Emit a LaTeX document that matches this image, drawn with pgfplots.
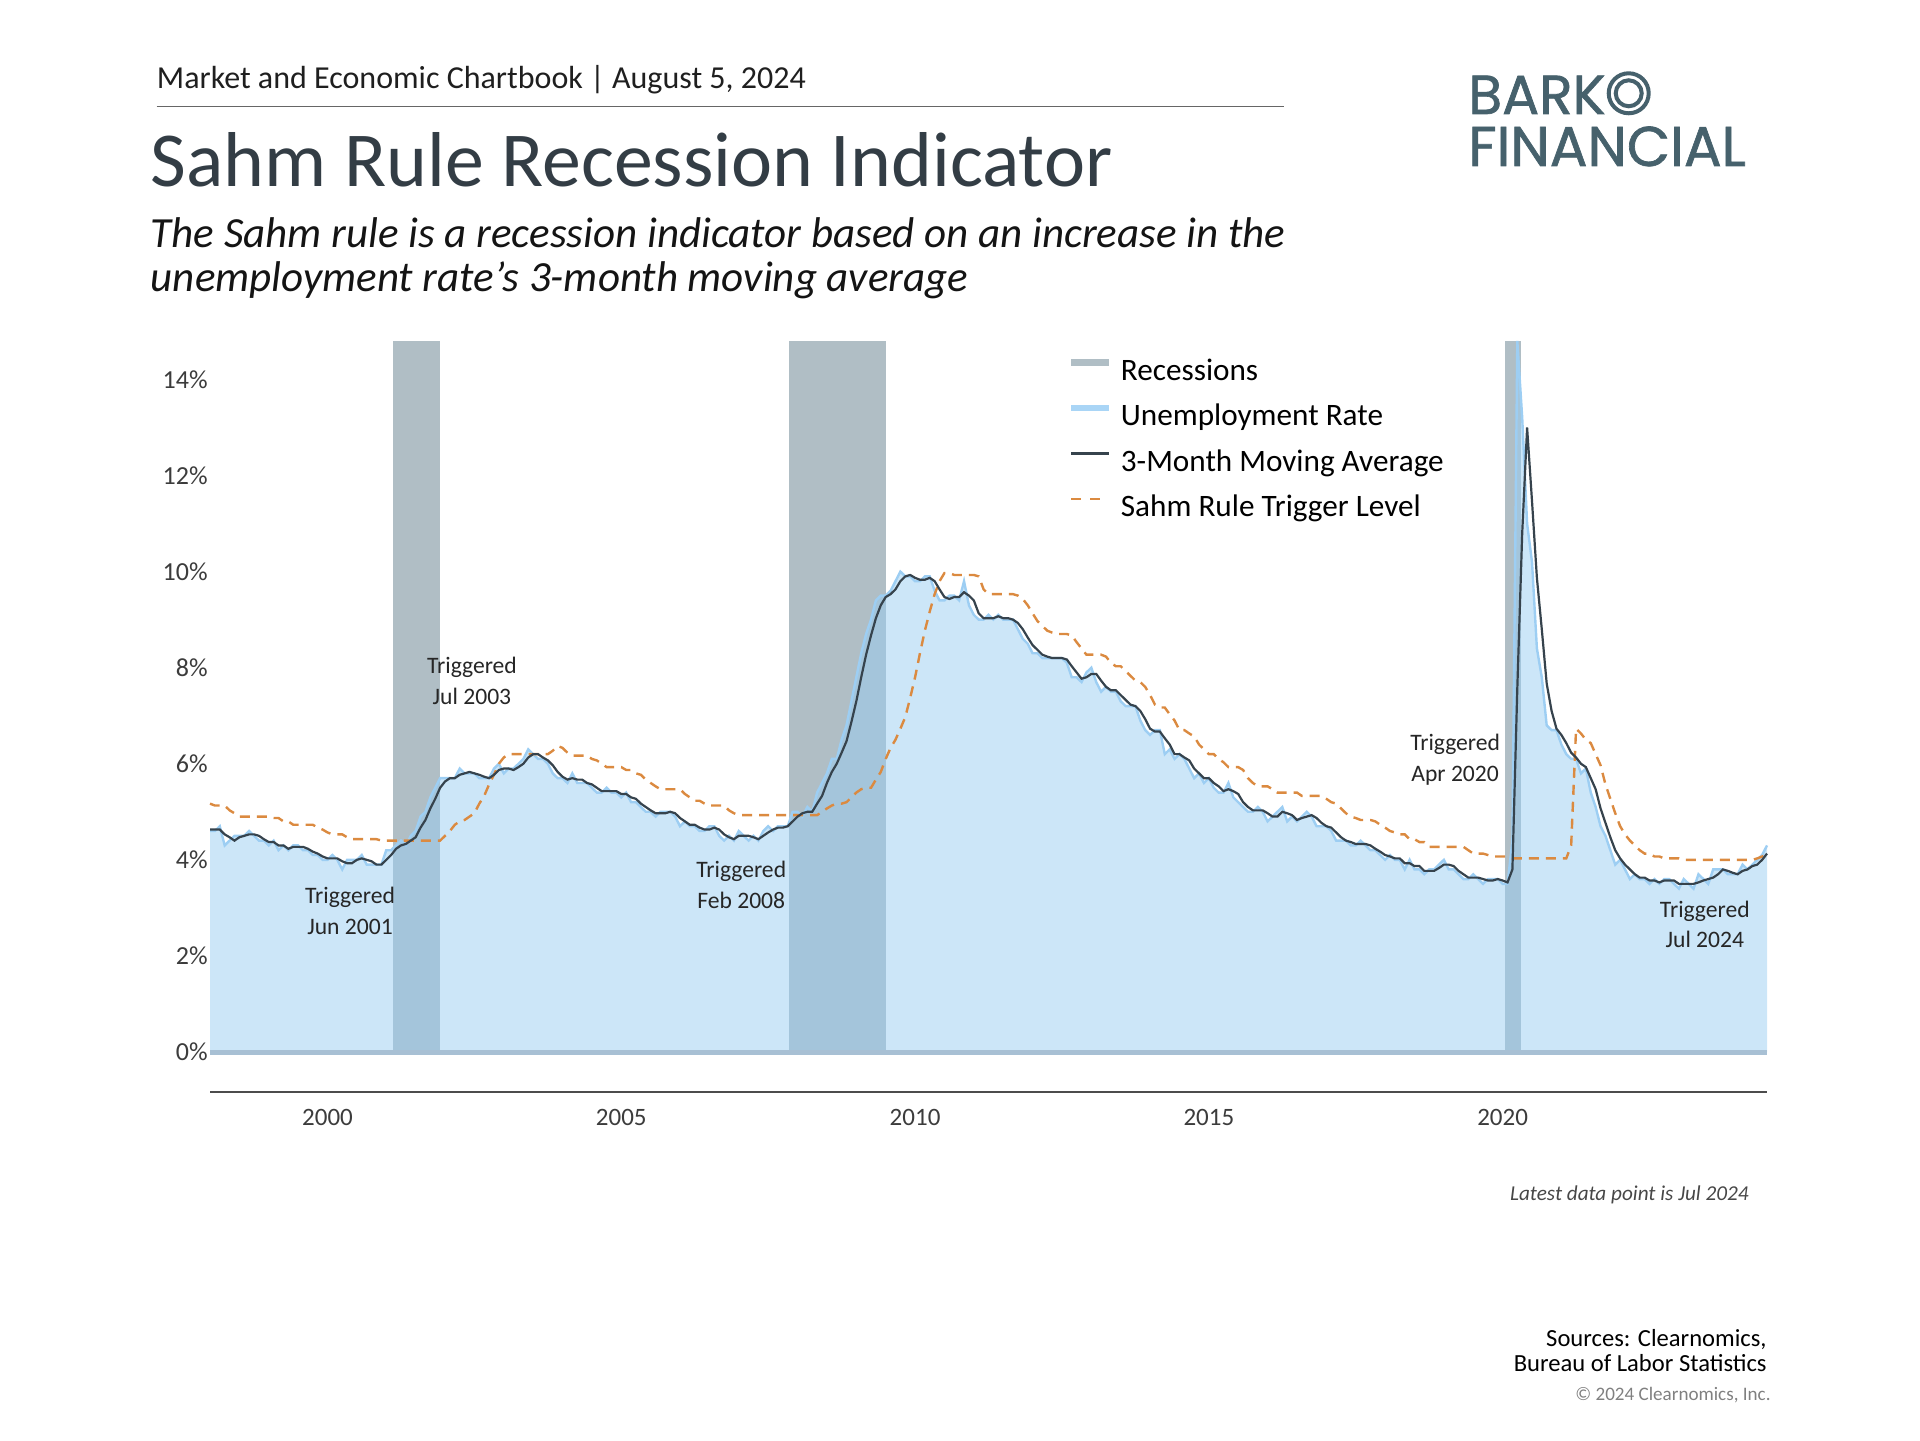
\documentclass[border=0pt]{standalone}
\usepackage{fontspec}
\setmainfont{Carlito}
\newfontfamily\logofont{Poppins}[FakeBold=1.2]
\usepackage{pgfplots}
\usepackage{pgfplotstable}
\pgfplotsset{compat=1.18}

\definecolor{recgray}{HTML}{B0BEC5}
\definecolor{areablue}{HTML}{99CDF1}
\definecolor{urblue}{HTML}{9DCEF3}
\definecolor{urleg}{HTML}{A9D5F6}
\definecolor{maline}{HTML}{36434D}
\definecolor{trig}{HTML}{DB8A40}
\definecolor{basecol}{HTML}{A8C0D4}
\definecolor{titlecol}{HTML}{333D45}
\definecolor{logocol}{HTML}{46616C}
\definecolor{tickcol}{HTML}{3C3C3C}

% monthly, Jan 1998 .. Jul 2024: unemployment rate, 3-month average, Sahm trigger level
\pgfplotstableread[row sep=\\]{
ur ma tr \\
4.6 4.63 5.17 \\ 4.6 4.63 5.13 \\ 4.7 4.63 5.13 \\ 4.3 4.53 5.13 \\ 4.4 4.47 5.03 \\ 4.5 4.40 4.97 \\ 4.5 4.47 4.90 \\ 4.5 4.50 4.90 \\ 4.6 4.53 4.90 \\ 4.5 4.53 4.90 \\ 4.4 4.50 4.90 \\ 4.4 4.43 4.90 \\ % 1998
4.3 4.37 4.90 \\ 4.4 4.37 4.87 \\ 4.2 4.30 4.87 \\ 4.3 4.30 4.80 \\ 4.2 4.23 4.80 \\ 4.3 4.27 4.73 \\ 4.3 4.27 4.73 \\ 4.2 4.27 4.73 \\ 4.2 4.23 4.73 \\ 4.1 4.17 4.73 \\ 4.1 4.13 4.67 \\ 4.0 4.07 4.63 \\ % 1999
4.0 4.03 4.57 \\ 4.1 4.03 4.53 \\ 4.0 4.03 4.53 \\ 3.8 3.97 4.53 \\ 4.0 3.93 4.47 \\ 4.0 3.93 4.43 \\ 4.0 4.00 4.43 \\ 4.1 4.03 4.43 \\ 3.9 4.00 4.43 \\ 3.9 3.97 4.43 \\ 3.9 3.90 4.43 \\ 3.9 3.90 4.40 \\ % 2000
4.2 4.00 4.40 \\ 4.2 4.10 4.40 \\ 4.3 4.23 4.40 \\ 4.4 4.30 4.40 \\ 4.3 4.33 4.40 \\ 4.5 4.40 4.40 \\ 4.6 4.47 4.40 \\ 4.9 4.67 4.40 \\ 5.0 4.83 4.40 \\ 5.3 5.07 4.40 \\ 5.5 5.27 4.40 \\ 5.7 5.50 4.40 \\ % 2001
5.7 5.63 4.50 \\ 5.7 5.70 4.60 \\ 5.7 5.70 4.73 \\ 5.9 5.77 4.80 \\ 5.8 5.80 4.83 \\ 5.8 5.83 4.90 \\ 5.8 5.80 4.97 \\ 5.7 5.77 5.17 \\ 5.7 5.73 5.33 \\ 5.7 5.70 5.57 \\ 5.9 5.77 5.77 \\ 6.0 5.87 6.00 \\ % 2002
5.8 5.90 6.13 \\ 5.9 5.90 6.20 \\ 5.9 5.87 6.20 \\ 6.0 5.93 6.20 \\ 6.1 6.00 6.20 \\ 6.3 6.13 6.20 \\ 6.2 6.20 6.20 \\ 6.1 6.20 6.20 \\ 6.1 6.13 6.20 \\ 6.0 6.07 6.20 \\ 5.8 5.97 6.27 \\ 5.7 5.83 6.37 \\ % 2003
5.7 5.73 6.33 \\ 5.6 5.67 6.23 \\ 5.8 5.70 6.17 \\ 5.6 5.67 6.17 \\ 5.6 5.67 6.17 \\ 5.6 5.60 6.17 \\ 5.5 5.57 6.10 \\ 5.4 5.50 6.07 \\ 5.4 5.43 6.00 \\ 5.5 5.43 5.93 \\ 5.4 5.43 5.93 \\ 5.4 5.43 5.93 \\ % 2004
5.3 5.37 5.93 \\ 5.4 5.37 5.87 \\ 5.2 5.30 5.87 \\ 5.2 5.27 5.80 \\ 5.1 5.17 5.77 \\ 5.0 5.10 5.67 \\ 5.0 5.03 5.60 \\ 4.9 4.97 5.53 \\ 5.0 4.97 5.47 \\ 5.0 4.97 5.47 \\ 5.0 5.00 5.47 \\ 4.9 4.97 5.47 \\ % 2005
4.7 4.87 5.47 \\ 4.8 4.80 5.37 \\ 4.7 4.73 5.30 \\ 4.7 4.73 5.23 \\ 4.6 4.67 5.23 \\ 4.6 4.63 5.17 \\ 4.7 4.63 5.13 \\ 4.7 4.67 5.13 \\ 4.5 4.63 5.13 \\ 4.4 4.53 5.13 \\ 4.5 4.47 5.03 \\ 4.4 4.43 4.97 \\ % 2006
4.6 4.50 4.93 \\ 4.5 4.50 4.93 \\ 4.4 4.50 4.93 \\ 4.5 4.47 4.93 \\ 4.4 4.43 4.93 \\ 4.6 4.50 4.93 \\ 4.7 4.57 4.93 \\ 4.6 4.63 4.93 \\ 4.7 4.67 4.93 \\ 4.7 4.67 4.93 \\ 4.7 4.70 4.93 \\ 5.0 4.80 4.93 \\ % 2007
5.0 4.90 4.93 \\ 4.9 4.97 4.93 \\ 5.1 5.00 4.93 \\ 5.0 5.00 4.93 \\ 5.4 5.17 4.93 \\ 5.6 5.33 5.00 \\ 5.8 5.60 5.07 \\ 6.1 5.83 5.13 \\ 6.1 6.00 5.17 \\ 6.5 6.23 5.17 \\ 6.8 6.47 5.20 \\ 7.3 6.87 5.30 \\ % 2008
7.8 7.30 5.40 \\ 8.3 7.80 5.47 \\ 8.7 8.27 5.50 \\ 9.0 8.67 5.50 \\ 9.4 9.03 5.67 \\ 9.5 9.30 5.83 \\ 9.5 9.47 6.10 \\ 9.6 9.53 6.33 \\ 9.8 9.63 6.50 \\ 10.0 9.80 6.73 \\ 9.9 9.90 6.97 \\ 9.9 9.93 7.37 \\ % 2009
9.8 9.87 7.80 \\ 9.8 9.83 8.30 \\ 9.9 9.83 8.77 \\ 9.9 9.87 9.17 \\ 9.6 9.80 9.53 \\ 9.4 9.63 9.80 \\ 9.4 9.47 9.97 \\ 9.5 9.43 9.97 \\ 9.5 9.47 9.93 \\ 9.4 9.47 9.93 \\ 9.8 9.57 9.93 \\ 9.3 9.50 9.93 \\ % 2010
9.1 9.40 9.93 \\ 9.0 9.13 9.90 \\ 9.0 9.03 9.63 \\ 9.1 9.03 9.53 \\ 9.0 9.03 9.53 \\ 9.1 9.07 9.53 \\ 9.0 9.03 9.53 \\ 9.0 9.03 9.53 \\ 9.0 9.00 9.53 \\ 8.8 8.93 9.50 \\ 8.6 8.80 9.43 \\ 8.5 8.63 9.30 \\ % 2011
8.3 8.47 9.13 \\ 8.3 8.37 8.97 \\ 8.2 8.27 8.87 \\ 8.2 8.23 8.77 \\ 8.2 8.20 8.73 \\ 8.2 8.20 8.70 \\ 8.2 8.20 8.70 \\ 8.1 8.17 8.70 \\ 7.8 8.03 8.67 \\ 7.8 7.90 8.53 \\ 7.7 7.77 8.40 \\ 7.9 7.80 8.27 \\ % 2012
8.0 7.87 8.27 \\ 7.7 7.87 8.27 \\ 7.5 7.73 8.27 \\ 7.6 7.60 8.23 \\ 7.5 7.53 8.10 \\ 7.5 7.53 8.03 \\ 7.3 7.43 8.03 \\ 7.2 7.33 7.93 \\ 7.2 7.23 7.83 \\ 7.2 7.20 7.73 \\ 6.9 7.10 7.70 \\ 6.7 6.93 7.60 \\ % 2013
6.6 6.73 7.43 \\ 6.7 6.67 7.23 \\ 6.7 6.67 7.17 \\ 6.2 6.53 7.17 \\ 6.3 6.40 7.03 \\ 6.1 6.20 6.90 \\ 6.2 6.20 6.70 \\ 6.1 6.13 6.70 \\ 5.9 6.07 6.63 \\ 5.7 5.90 6.57 \\ 5.8 5.80 6.40 \\ 5.6 5.70 6.30 \\ % 2014
5.7 5.70 6.20 \\ 5.5 5.60 6.20 \\ 5.4 5.53 6.10 \\ 5.4 5.43 6.03 \\ 5.6 5.47 5.93 \\ 5.3 5.43 5.93 \\ 5.2 5.37 5.93 \\ 5.1 5.20 5.87 \\ 5.0 5.10 5.70 \\ 5.0 5.03 5.60 \\ 5.1 5.03 5.53 \\ 5.0 5.03 5.53 \\ % 2015
4.8 4.97 5.53 \\ 4.9 4.90 5.47 \\ 5.0 4.90 5.40 \\ 5.1 5.00 5.40 \\ 4.8 4.97 5.40 \\ 4.9 4.93 5.40 \\ 4.8 4.83 5.40 \\ 4.9 4.87 5.33 \\ 5.0 4.90 5.33 \\ 4.9 4.93 5.33 \\ 4.7 4.87 5.33 \\ 4.7 4.77 5.33 \\ % 2016
4.7 4.70 5.27 \\ 4.6 4.67 5.20 \\ 4.4 4.57 5.17 \\ 4.4 4.47 5.07 \\ 4.4 4.40 4.97 \\ 4.3 4.37 4.90 \\ 4.3 4.33 4.87 \\ 4.4 4.33 4.83 \\ 4.3 4.33 4.83 \\ 4.2 4.30 4.83 \\ 4.2 4.23 4.80 \\ 4.1 4.17 4.73 \\ % 2017
4.0 4.10 4.67 \\ 4.1 4.07 4.60 \\ 4.0 4.03 4.57 \\ 4.0 4.03 4.53 \\ 3.8 3.93 4.53 \\ 4.0 3.93 4.43 \\ 3.8 3.87 4.43 \\ 3.8 3.87 4.37 \\ 3.7 3.77 4.37 \\ 3.8 3.77 4.27 \\ 3.8 3.77 4.27 \\ 3.9 3.83 4.27 \\ % 2018
4.0 3.90 4.27 \\ 3.8 3.90 4.27 \\ 3.8 3.87 4.27 \\ 3.7 3.77 4.27 \\ 3.6 3.70 4.27 \\ 3.6 3.63 4.20 \\ 3.7 3.63 4.13 \\ 3.6 3.63 4.13 \\ 3.5 3.60 4.13 \\ 3.6 3.57 4.10 \\ 3.6 3.57 4.07 \\ 3.6 3.60 4.07 \\ % 2019
3.5 3.57 4.07 \\ 3.5 3.53 4.07 \\ 4.4 3.80 4.03 \\ 14.8 7.57 4.03 \\ 13.2 10.80 4.03 \\ 11.0 13.00 4.03 \\ 10.2 11.47 4.03 \\ 8.4 9.87 4.03 \\ 7.8 8.80 4.03 \\ 6.8 7.67 4.03 \\ 6.7 7.10 4.03 \\ 6.7 6.73 4.03 \\ % 2020
6.4 6.60 4.03 \\ 6.2 6.43 4.03 \\ 6.1 6.23 4.30 \\ 6.1 6.13 6.73 \\ 5.8 6.00 6.63 \\ 5.9 5.93 6.50 \\ 5.4 5.70 6.43 \\ 5.1 5.47 6.20 \\ 4.7 5.07 5.97 \\ 4.5 4.77 5.57 \\ 4.2 4.47 5.27 \\ 3.9 4.20 4.97 \\ % 2021
4.0 4.03 4.70 \\ 3.8 3.90 4.53 \\ 3.6 3.80 4.40 \\ 3.7 3.70 4.30 \\ 3.6 3.63 4.20 \\ 3.6 3.63 4.13 \\ 3.5 3.57 4.13 \\ 3.6 3.57 4.07 \\ 3.5 3.53 4.07 \\ 3.6 3.57 4.03 \\ 3.6 3.57 4.03 \\ 3.5 3.57 4.03 \\ % 2022
3.4 3.50 4.03 \\ 3.6 3.50 4.00 \\ 3.5 3.50 4.00 \\ 3.4 3.50 4.00 \\ 3.7 3.53 4.00 \\ 3.6 3.57 4.00 \\ 3.5 3.60 4.00 \\ 3.8 3.63 4.00 \\ 3.8 3.70 4.00 \\ 3.8 3.80 4.00 \\ 3.7 3.77 4.00 \\ 3.7 3.73 4.00 \\ % 2023
3.7 3.70 4.00 \\ 3.9 3.77 4.00 \\ 3.8 3.80 4.00 \\ 3.9 3.87 4.00 \\ 4.0 3.90 4.03 \\ 4.1 4.00 4.07 \\ 4.3 4.13 4.10 \\ % 2024
}\sahm

\begin{document}
\begin{tikzpicture}[x=1pt,y=1pt]
\useasboundingbox (0,0) rectangle (960,720);

% header
\node[anchor=base west, inner sep=0pt, text=black!88, font=\fontsize{16}{19}\selectfont] at (78.25,675.5) {Market and Economic Chartbook | August 5, 2024};
\draw[black!60, line width=0.6pt] (78.25,666.8) -- (642,666.8);
\node[anchor=base west, inner sep=0pt, text=titlecol, font=\fontsize{38.9}{44}\selectfont] at (75.2,626.5) {Sahm Rule Recession Indicator};
\node[anchor=base west, inner sep=0pt, text=black!92, font=\fontsize{21.5}{25}\itshape] at (75.2,596) {The Sahm rule is a recession indicator based on an increase in the};
\node[anchor=base west, inner sep=0pt, text=black!92, font=\fontsize{21.5}{25}\itshape] at (75.2,574) {unemployment rate’s 3-month moving average};

% logo
\node[anchor=base west, inner sep=0pt, text=logocol, font=\logofont\fontsize{27.5}{30}\selectfont] at (734,663) {BARK};
\draw[logocol, line width=2pt] (814.35,673.35) circle (10);
\draw[logocol, line width=2pt] (814.35,673.35) circle (6.5);
\node[anchor=base west, inner sep=0pt, text=logocol, font=\logofont\fontsize{28}{30}\selectfont] at (734,637) {FINANCIAL};

\begin{axis}[
  at={(105pt,194pt)}, anchor=south west,
  scale only axis, width=778.5pt, height=355.5pt,
  xmin=0, xmax=318, ymin=0, ymax=14.8,
  clip=false,
  axis line style={draw=none}, tick style={draw=none},
  xtick={24,84,144,204,264},
  xticklabels={2000,2005,2010,2015,2020},
  ytick={0,2,4,6,8,10,12,14},
  yticklabels={0\%,2\%,4\%,6\%,8\%,10\%,12\%,14\%},
  x tick label style={anchor=center, inner sep=0pt, yshift=-32.5pt, font=\fontsize{12.5}{14}\selectfont, text=tickcol},
  y tick label style={anchor=east, inner sep=0pt, xshift=-1pt, font=\fontsize{13}{15}\selectfont, text=tickcol},
  legend image code/.code={\draw[#1] (0pt,5pt) -- (19pt,5pt);},
  legend style={at={(0.551,0.976)}, anchor=north west, draw=none, fill=none,
    inner sep=0pt, outer sep=0pt, row sep=8.8pt, column sep=4pt,
    font=\fontsize{15.6}{19}\selectfont,
    nodes={inner sep=0pt, text height=11pt, text depth=3pt}},
  legend cell align=left,
]
% recessions
\addplot[fill=recgray, draw=none, forget plot] coordinates {(37.3,14.8) (47,14.8)} \closedcycle;
\addplot[fill=recgray, draw=none, forget plot] coordinates {(118.3,14.8) (138,14.8)} \closedcycle;
\addplot[fill=recgray, draw=none, forget plot] coordinates {(264.4,14.8) (267.8,14.8)} \closedcycle;
% unemployment area
\addplot[fill=areablue, fill opacity=0.5, draw=none, forget plot] table[x expr=\coordindex, y=ur] {\sahm} \closedcycle;
\addplot[basecol, line width=2.5pt, forget plot] coordinates {(0,0) (318,0)};
\addplot[urblue, line width=1.2pt, forget plot] table[x expr=\coordindex, y=ur] {\sahm};
\addplot[trig, line width=1.2pt, dash pattern=on 5pt off 3.5pt, forget plot] table[x expr=\coordindex, y=tr] {\sahm};
\addplot[maline, line width=1.1pt, forget plot] table[x expr=\coordindex, y=ma] {\sahm};

\addlegendimage{recgray, line width=3.5pt}
\addlegendentry{Recessions}
\addlegendimage{urleg, line width=3pt}
\addlegendentry{Unemployment Rate}
\addlegendimage{maline, line width=1.3pt}
\addlegendentry{3-Month Moving Average}
\addlegendimage{trig, line width=1.2pt, dash pattern=on 5pt off 4.5pt}
\addlegendentry{Sahm Rule Trigger Level}

\begin{scope}[every node/.style={align=center, text=black!85, font=\fontsize{11.8}{15.3}\selectfont}]
\node at (axis cs:28.6,2.94) {Triggered\\Jun 2001};
\node at (axis cs:53.5,7.73) {Triggered\\Jul 2003};
\node at (axis cs:108.5,3.48) {Triggered\\Feb 2008};
\node at (axis cs:254.3,6.08) {Triggered\\Apr 2020};
\node at (axis cs:305.3,2.66) {Triggered\\Jul 2024};
\end{scope}
\end{axis}

% x axis rule below the chart
\draw[black!70, line width=1pt] (105,174) -- (883.5,174);

% notes
\node[anchor=base east, inner sep=0pt, text=black!72, font=\fontsize{10.6}{13}\itshape] at (874.5,119.7) {Latest data point is Jul 2024};
\node[anchor=base east, inner sep=0pt, text=black, font=\fontsize{12.3}{14}\selectfont] at (883.5,47) {Sources: Clearnomics,};
\node[anchor=base east, inner sep=0pt, text=black, font=\fontsize{12.3}{14}\selectfont] at (883.5,34.2) {Bureau of Labor Statistics};
\node[anchor=base east, inner sep=0pt, text=black!50, font=\fontsize{9.55}{12}\selectfont] at (885.5,20) {© 2024 Clearnomics, Inc.};
\end{tikzpicture}
\end{document}
